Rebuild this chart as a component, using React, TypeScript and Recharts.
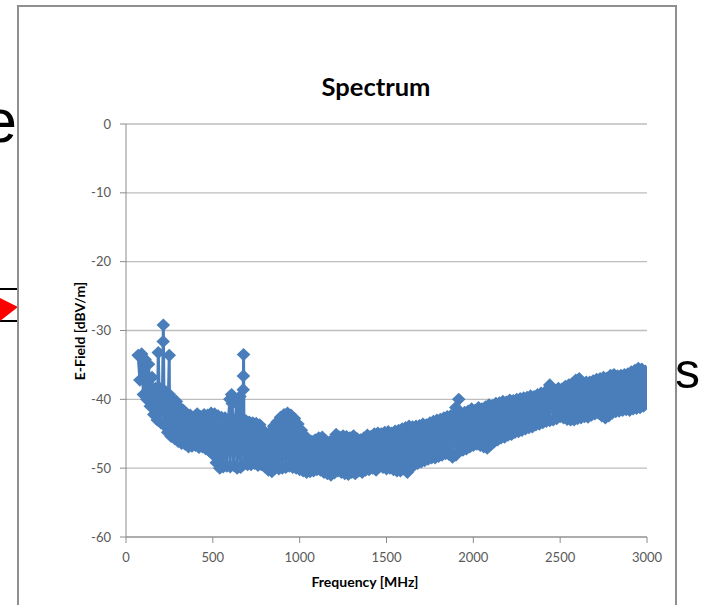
import { CartesianGrid, Line, LineChart, XAxis, YAxis } from 'recharts';

// sweep grid of the analyser: one reading every 10 MHz from 70 MHz
const sweepStartMHz = 70;
const sweepStepMHz = 10;

// E-Field readings [dBV/m] on the sweep grid, ten per row (100 MHz per row)
const levelsLow = [
  -33.6, -37.2, -33.4, -39.3, -34.2, -40.0, -34.9, -41.0, -36.8, -42.2,
  -38.4, -43.0, -38.3, -43.4, -38.6, -43.8, -38.9, -44.8, -39.3, -45.4,
  -40.0, -45.7, -40.3, -46.1, -41.2, -46.4, -41.6, -46.5, -42.1, -46.9,
  -42.3, -46.8, -42.6, -46.7, -42.1, -47.0, -42.5, -46.9, -42.2, -47.2,
  -42.3, -47.5, -42.0, -48.0, -42.1, -49.2, -42.4, -50.0, -42.6, -49.8,
  -42.7, -49.7, -42.9, -49.8, -42.8, -49.6, -42.9, -50.0, -42.7, -49.9,
  -43.0, -49.4, -43.1, -49.5, -43.3, -49.5, -43.4, -49.3, -43.5, -49.6,
  -43.7, -49.5, -44.5, -49.8, -45.4, -50.3, -44.8, -50.5, -43.9, -50.0,
  -43.3, -50.1, -42.6, -50.0, -42.2, -49.9, -42.0, -49.7, -42.3, -49.9,
];

const levelsMid = [
  -42.8, -50.0, -43.6, -50.2, -44.5, -50.4, -45.3, -50.6, -46.0, -50.5,
  -46.1, -50.4, -45.9, -50.2, -45.6, -50.3, -45.5, -50.6, -46.0, -50.8,
  -46.3, -51.0, -45.8, -50.7, -45.1, -50.4, -45.5, -50.6, -45.3, -50.8,
  -45.4, -50.9, -45.6, -50.6, -45.3, -50.8, -45.7, -50.4, -45.9, -50.6,
  -45.6, -50.3, -45.2, -50.2, -45.4, -50.0, -45.0, -50.3, -44.9, -49.7,
  -45.0, -49.9, -44.8, -50.1, -44.7, -50.0, -44.9, -50.2, -44.6, -50.4,
  -44.5, -50.4, -44.3, -50.1, -44.1, -50.6, -43.9, -50.0, -44.0, -49.5,
  -43.9, -49.3, -43.8, -49.1, -43.6, -48.9, -43.7, -48.7, -43.4, -48.5,
  -43.2, -48.5, -43.0, -48.3, -42.9, -48.1, -42.7, -47.9, -42.5, -48.0,
  -42.4, -48.4, -42.2, -48.1, -42.3, -47.5, -42.0, -47.4, -41.9, -47.2,
];

const levelsHigh = [
  -41.7, -46.9, -41.4, -46.7, -41.6, -46.5, -41.2, -46.7, -41.4, -46.9,
  -41.1, -47.1, -40.8, -46.6, -40.9, -46.2, -40.6, -45.9, -40.5, -45.6,
  -40.3, -45.5, -40.4, -45.2, -40.1, -45.1, -40.2, -44.8, -40.0, -44.7,
  -39.9, -44.5, -39.8, -44.3, -39.7, -44.1, -39.5, -44.0, -39.6, -43.7,
  -39.3, -43.6, -39.1, -43.4, -39.0, -43.2, -38.9, -43.1, -38.8, -43.0,
  -38.7, -42.8, -38.4, -42.5, -38.5, -42.7, -38.1, -42.9, -37.9, -43.0,
  -37.7, -43.0, -37.2, -42.8, -37.0, -42.7, -37.6, -42.5, -37.5, -42.6,
  -37.5, -42.3, -37.3, -42.1, -37.1, -42.0, -37.0, -42.4, -36.8, -42.7,
  -36.9, -42.4, -36.5, -42.0, -36.4, -41.8, -36.6, -41.7, -36.5, -41.6,
  -36.4, -41.5, -36.3, -41.6, -36.0, -41.4, -35.8, -41.3, -35.5, -41.2,
  -35.6, -41.0, -35.9, -40.6,
];

// narrow-band emissions sticking out of the noise floor
const spikeFreqs = [186, 214, 215, 249, 598, 608, 612, 637, 656, 675, 676, 677, 1899, 1916, 2440];
const spikeLevels = [-33.2, -31.6, -29.2, -33.6, -40.0, -39.3, -40.6, -40.1, -39.6, -38.6, -36.6, -33.5, -41.2, -40.0, -37.9];

const freqTicks = [0, 500, 1000, 1500, 2000, 2500, 3000];
const levelTicks = [0, -10, -20, -30, -40, -50, -60];

const sweep = [...levelsLow, ...levelsMid, ...levelsHigh].map((level, i) => ({
  freq: sweepStartMHz + i * sweepStepMHz,
  level,
}));
const spikes = spikeFreqs.map((freq, i) => ({ freq, level: spikeLevels[i] }));
const spectrum = [...sweep, ...spikes].sort((a, b) => a.freq - b.freq);

const BLUE = '#4A7EBB';
const FONT = 'Lato, "Open Sans", sans-serif';

const tickStyle = { fontSize: 13, fill: '#595959', fontFamily: FONT };

function Diamond(props: any) {
  const { cx, cy, index } = props;
  if (cx == null || cy == null) return null;
  const w = 6.8;
  const h = 6.6;
  return (
    <polygon
      key={`pt-${index}`}
      points={`${cx},${cy - h} ${cx + w},${cy} ${cx},${cy + h} ${cx - w},${cy}`}
      fill={BLUE}
    />
  );
}

export default function App() {
  return (
    <div style={{ position: 'absolute', left: 0, top: 0, width: 702, height: 605, overflow: 'hidden', background: '#FFFFFF' }}>
      {/* bits of the slide behind the chart */}
      <div style={{ position: 'absolute', left: -39, top: 90, width: 56, textAlign: 'right', fontFamily: '"Liberation Sans", sans-serif', fontSize: 62, lineHeight: '62px', color: '#000' }}>
        e
      </div>
      <div style={{ position: 'absolute', left: 0, top: 288, width: 18, height: 2, background: '#000' }} />
      <div style={{ position: 'absolute', left: 0, top: 320, width: 18, height: 2, background: '#000' }} />
      <svg style={{ position: 'absolute', left: 0, top: 0 }} width={20} height={605}>
        <polygon points="0,298 18,307 0,321" fill="#FF0000" />
      </svg>
      <div style={{ position: 'absolute', left: 650, top: 346, fontFamily: '"Liberation Sans", sans-serif', fontSize: 50, lineHeight: '50px', color: '#000', whiteSpace: 'nowrap' }}>
        ys
      </div>

      {/* chart area */}
      <div style={{ position: 'absolute', left: 17, top: 5, width: 656, height: 640, border: '2px solid #8F8F8F', background: '#FFFFFF' }} />

      <div style={{ position: 'absolute', left: 276, top: 74, width: 200, textAlign: 'center', fontFamily: FONT, fontWeight: 700, fontSize: 25.5, lineHeight: '25px', color: '#000' }}>
        Spectrum
      </div>
      <div style={{ position: 'absolute', left: 265, top: 575, width: 200, textAlign: 'center', fontFamily: FONT, fontWeight: 700, fontSize: 14, lineHeight: '14px', color: '#000' }}>
        Frequency [MHz]
      </div>
      <div
        style={{
          position: 'absolute',
          left: 80 - 80,
          top: 331 - 7,
          width: 160,
          height: 14,
          textAlign: 'center',
          fontFamily: FONT,
          fontWeight: 700,
          fontSize: 14,
          lineHeight: '14px',
          color: '#000',
          transform: 'rotate(-90deg)',
        }}
      >
        E-Field [dBV/m]
      </div>

      <div style={{ position: 'absolute', left: 0, top: 0 }}>
        <LineChart width={702} height={605} data={spectrum} margin={{ top: 124, right: 55, bottom: 38, left: 66 }}>
          <CartesianGrid vertical={false} stroke="#BDBDBD" strokeWidth={1.3} />
          <XAxis
            type="number"
            dataKey="freq"
            domain={[0, 3000]}
            ticks={freqTicks}
            height={30}
            tick={tickStyle}
            tickSize={6}
            tickMargin={10}
            stroke="#8C8C8C"
            allowDataOverflow
          />
          <YAxis
            type="number"
            domain={[-60, 0]}
            ticks={levelTicks}
            width={60}
            tick={tickStyle}
            tickSize={6}
            tickMargin={9}
            stroke="#8C8C8C"
            allowDataOverflow
          />
          <Line
            type="linear"
            dataKey="level"
            stroke={BLUE}
            strokeWidth={3}
            strokeLinejoin="round"
            dot={Diamond}
            activeDot={false}
            isAnimationActive={false}
          />
        </LineChart>
      </div>
    </div>
  );
}
